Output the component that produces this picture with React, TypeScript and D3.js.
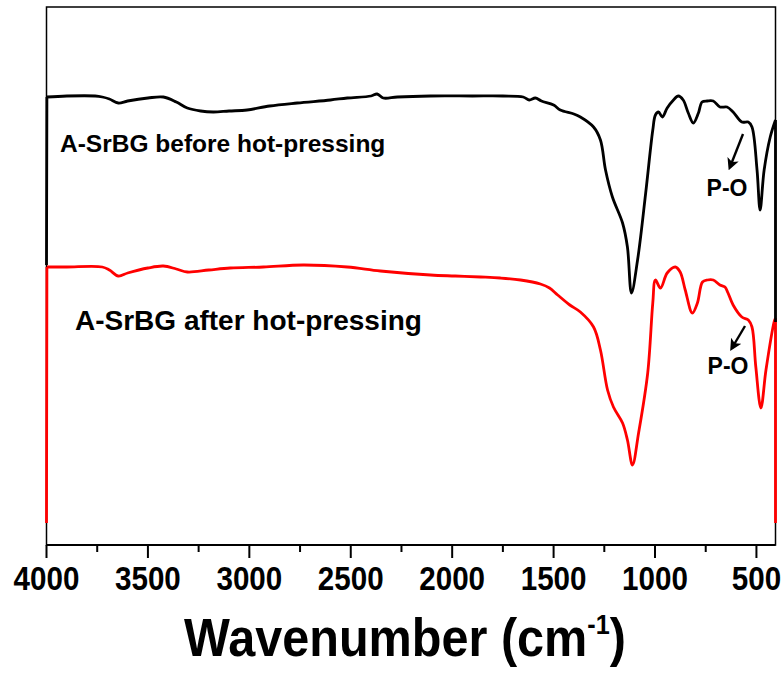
import React from "react";
import * as d3 from "d3";

// Wavenumber (cm-1) and transmittance (a.u.)
const beforeWn = [4000, 3998, 3900, 3760, 3725, 3690, 3646, 3600, 3500, 3424, 3360, 3306, 3240, 3178, 3100, 3011, 2900, 2764, 2600, 2517, 2400, 2370, 2340, 2270, 2107, 1900, 1750, 1650, 1620, 1590, 1560, 1500, 1467, 1400, 1368, 1303, 1269, 1244, 1210, 1160, 1136, 1116, 1086, 1046, 1011, 998, 983, 964, 940, 909, 885, 861, 836, 811, 786, 768, 743, 713, 680, 645, 615, 572, 540, 522, 497, 482, 462, 432, 406, 406];
const beforeT = [280, 448, 449, 449, 448, 446, 442, 444, 447, 448, 443, 437, 434, 433, 434, 435, 439, 442, 445, 447, 449, 451, 447, 448, 449, 449, 449, 448, 445, 447, 444, 440, 435, 431, 428, 418, 405, 375, 348, 322, 298, 252, 285, 352, 415, 430, 433, 428, 437, 445, 449, 445, 432, 422, 432, 443, 444, 444, 438, 438, 433, 423, 423, 418, 375, 335, 375, 408, 425, 223];

const afterWn = [4000, 3998, 3900, 3725, 3690, 3646, 3600, 3500, 3424, 3360, 3306, 3200, 3094, 2931, 2734, 2517, 2354, 2107, 1985, 1860, 1763, 1663, 1565, 1520, 1480, 1420, 1368, 1303, 1269, 1234, 1205, 1160, 1136, 1111, 1081, 1036, 1011, 998, 973, 940, 900, 876, 851, 816, 791, 766, 742, 713, 680, 655, 640, 615, 572, 540, 522, 503, 478, 453, 413, 406, 406];
const afterT = [22, 278, 278, 278, 275, 269, 272, 277, 279, 276, 273, 275, 277, 278, 280, 278, 274, 270, 269, 268, 267, 265, 261, 257, 250, 240, 233, 218, 195, 155, 138, 122, 105, 80, 112, 172, 242, 265, 257, 272, 278, 273, 255, 232, 242, 263, 265, 265, 260, 258, 252, 240, 228, 225, 218, 178, 137, 175, 223, 227, 22];

const xTicks = [4000, 3500, 3000, 2500, 2000, 1500, 1000, 500];
const xMinorTicks = [3750, 3250, 2750, 2250, 1750, 1250, 750];

const labelBefore = "A-SrBG before hot-pressing";
const labelAfter = "A-SrBG after hot-pressing";
const peakLabel = "P-O";

const W = 784;
const H = 677;
const left = 46.5;
const right = 775.5;
const top = 7;
const bottom = 545;

type Pt = [number, number];

export default function App() {
  const x = d3.scaleLinear().domain([4000, 406]).range([left, right]);
  const y = d3.scaleLinear().domain([0, 538]).range([bottom, top]);
  const smooth = d3
    .line<Pt>()
    .x((d) => x(d[0]))
    .y((d) => y(d[1]))
    .curve(d3.curveCatmullRom.alpha(0.5));
  const straight = d3
    .line<Pt>()
    .x((d) => x(d[0]))
    .y((d) => y(d[1]));

  const toPts = (wn: number[], t: number[]) => wn.map((w, i) => [w, t[i]] as Pt);
  const seriesPath = (pts: Pt[]) => {
    const n = pts.length;
    return (
      (straight(pts.slice(0, 2)) || "") +
      (smooth(pts.slice(1, n - 1)) || "") +
      (straight(pts.slice(n - 2)) || "")
    );
  };

  const before = toPts(beforeWn, beforeT);
  const after = toPts(afterWn, afterT);

  const font = "Arial, 'Liberation Sans', Helvetica, sans-serif";

  return (
    <svg
      width={W}
      height={H}
      style={{ position: "absolute", left: 0, top: 0, background: "#fff" }}
    >
      <defs>
        <marker id="arrow" viewBox="0 0 10 10" refX="7" refY="5" markerWidth="5" markerHeight="5" orient="auto">
          <path d="M0,0 L10,5 L0,10 L2.5,5 z" fill="#000" />
        </marker>
      </defs>
      <rect x={0} y={0} width={W} height={H} fill="#fff" />
      {/* frame */}
      <rect x={left} y={top} width={right - left} height={bottom - top} fill="none" stroke="#000" strokeWidth={1.5} />
      {/* curves */}
      <path d={seriesPath(after)} fill="none" stroke="#ff0000" strokeWidth={2.8} strokeLinejoin="round" />
      <path d={seriesPath(before)} fill="none" stroke="#000" strokeWidth={2.8} strokeLinejoin="round" />
      {/* bottom axis line */}
      <line x1={left} x2={right} y1={bottom} y2={bottom} stroke="#000" strokeWidth={2} />
      {xTicks.map((t) => (
        <g key={t}>
          <line x1={x(t)} x2={x(t)} y1={bottom} y2={bottom + 13} stroke="#000" strokeWidth={2} />
          <text
            transform={`translate(${x(t)},590) scale(0.87,1)`}
            textAnchor="middle"
            fontFamily={font}
            fontWeight="bold"
            fontSize={34}
            fill="#000"
          >
            {t}
          </text>
        </g>
      ))}
      {xMinorTicks.map((t) => (
        <line key={t} x1={x(t)} x2={x(t)} y1={bottom} y2={bottom + 7} stroke="#000" strokeWidth={2} />
      ))}
      {/* axis title */}
      <text
        transform="translate(405,656) scale(0.9,1)"
        textAnchor="middle"
        fontFamily={font}
        fontWeight="bold"
        fontSize={54}
        fill="#000"
      >
        Wavenumber (cm<tspan dy={-22} fontSize={28}>-1</tspan><tspan dy={22}>)</tspan>
      </text>
      {/* series labels */}
      <text x={60} y={152} fontFamily={font} fontWeight="bold" fontSize={24.5} fill="#000">
        {labelBefore}
      </text>
      <text x={75} y={330} fontFamily={font} fontWeight="bold" fontSize={28} fill="#000">
        {labelAfter}
      </text>
      {/* P-O annotations */}
      <line x1={743} y1={134} x2={730} y2={167} stroke="#000" strokeWidth={2.4} markerEnd="url(#arrow)" />
      <text x={727} y={196} textAnchor="middle" fontFamily={font} fontWeight="bold" fontSize={23} fill="#000">
        {peakLabel}
      </text>
      <line x1={745} y1={326} x2={732} y2={348} stroke="#000" strokeWidth={2.4} markerEnd="url(#arrow)" />
      <text x={728} y={374} textAnchor="middle" fontFamily={font} fontWeight="bold" fontSize={23} fill="#000">
        {peakLabel}
      </text>
    </svg>
  );
}
